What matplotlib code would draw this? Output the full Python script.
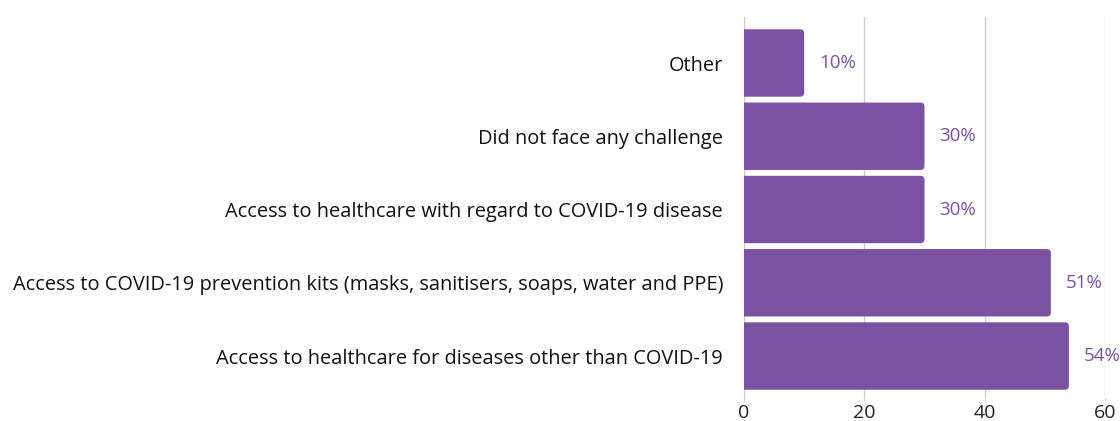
import matplotlib.pyplot as plt
from matplotlib.patches import FancyBboxPatch

# Data
categories = [
    'Access to healthcare for diseases other than COVID-19',
    'Access to COVID-19 prevention kits (masks, sanitisers, soaps, water and PPE)',
    'Access to healthcare with regard to COVID-19 disease',
    'Did not face any challenge',
    'Other',
]
values = [54, 51, 30, 30, 10]
xticks = [0, 20, 40, 60]

bar_color = '#7b52a1'
label_color = '#7b52a1'
grid_color = '#cccccc'

plt.rcParams['font.family'] = ['Open Sans', 'DejaVu Sans']

fig = plt.figure(figsize=(11.2, 4.21), dpi=100)
ax = fig.add_axes([744 / 1120, 1 - 398 / 421, (1105 - 744) / 1120, (398 - 17) / 421])

ax.set_xlim(0, 60)
ax.set_ylim(-0.573, 4.628)

# Bars with rounded right corners (left corners clipped at x=0)
h = 0.92
bbox = ax.get_window_extent()
px_x = bbox.width / 60
px_y = bbox.height / (4.628 + 0.573)
r_px = 4
for i, v in enumerate(values):
    patch = FancyBboxPatch((-2, i - h / 2), v + 2, h,
                           boxstyle='round,pad=0,rounding_size=%f' % (r_px / px_x),
                           mutation_aspect=px_x / px_y,
                           facecolor=bar_color, edgecolor='none', zorder=3)
    ax.add_patch(patch)
    ax.text(v + 15 / px_x, i, f'{v}%', color=label_color, fontsize=13.5,
            va='center', ha='left', zorder=4, clip_on=False)

ax.set_yticks(range(len(categories)))
ax.set_yticklabels(categories, fontsize=14.4, color='#111111')
ax.set_xticks(xticks)
ax.set_xticklabels([str(t) for t in xticks], fontsize=14, color='#222222')

ax.tick_params(axis='y', length=0, pad=15)
ax.tick_params(axis='x', length=2.5, color=grid_color, pad=2)
ax.grid(axis='x', color=grid_color, linewidth=1, zorder=0)
for s in ['top', 'right', 'bottom']:
    ax.spines[s].set_visible(False)
ax.spines['left'].set_color(grid_color)

fig.savefig('out.png', dpi=100)
